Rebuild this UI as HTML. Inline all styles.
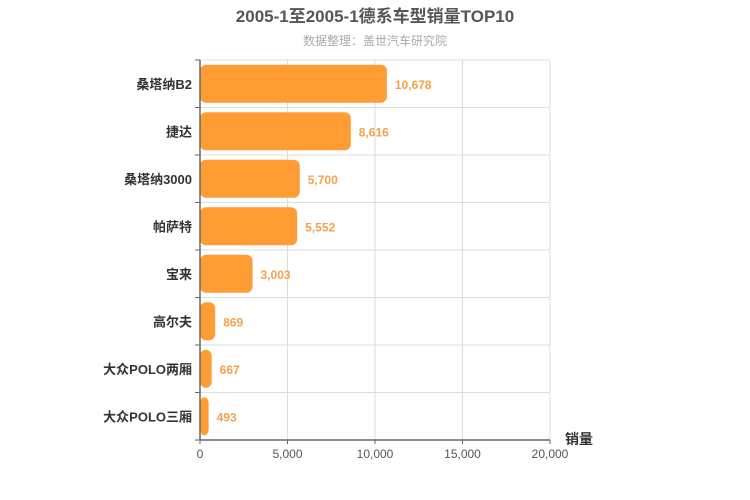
<!DOCTYPE html>
<html><head><meta charset="utf-8"><style>
body{margin:0;background:#fff}
svg{font-family:"Liberation Sans","Noto Sans CJK SC",sans-serif;display:block}
</style></head><body>
<svg id="c" width="750" height="500">
<text x="375" y="22" text-anchor="middle" font-size="17" font-weight="bold" fill="#555">2005-1至2005-1德系车型销量TOP10</text>
<text x="375" y="45" text-anchor="middle" font-size="12" fill="#aaa">数据整理：盖世汽车研究院</text>
<g id="grid"></g><g id="bars"></g><g id="axes"></g>
<text x="565" y="444" font-size="14" font-weight="bold" fill="#333">销量</text>
</svg>
<script>
const categories=["桑塔纳B2","捷达","桑塔纳3000","帕萨特","宝来","高尔夫","大众POLO两厢","大众POLO三厢"];
const values=[10678,8616,5700,5552,3003,869,667,493];
const xTicks=[0,5000,10000,15000,20000];
const NS="http://www.w3.org/2000/svg";
const L=200,R=550,T=60,B=440,MAX=20000;
const x=v=>L+(v/MAX)*(R-L);
const band=(B-T)/categories.length;
const y=i=>T+i*band;
function mk(tag,attrs,parent,txt){const e=document.createElementNS(NS,tag);for(const k in attrs)e.setAttribute(k,attrs[k]);if(txt!==undefined)e.textContent=txt;parent.appendChild(e);return e;}
const grid=document.getElementById('grid'),bars=document.getElementById('bars'),axes=document.getElementById('axes');
xTicks.forEach(t=>{if(t>0){const g=mk('line',{x1:x(t),x2:x(t),y1:T,y2:B,stroke:'#ddd'},grid);

}
const tl=mk('text',{x:x(t),y:B+18,'text-anchor':'middle','font-size':12,fill:'#555'},axes,t.toLocaleString('en-US'));


mk('line',{x1:x(t),x2:x(t),y1:B,y2:B+4,stroke:'#666'},axes);});
for(let i=0;i<=categories.length;i++){if(i<categories.length){const g=mk('line',{x1:L,x2:R,y1:y(i),y2:y(i),stroke:'#ddd'},grid);

}
mk('line',{x1:L-5,x2:L,y1:y(i),y2:y(i),stroke:'#666'},axes);}
categories.forEach((c,i)=>{const cy=y(i)+band/2;const bh=38;
const r=mk('rect',{x:L,y:cy-bh/2,width:Math.max(x(values[i])-L,1),height:bh,rx:6,fill:'#ff9c33'},bars);


const v=mk('text',{x:x(values[i])+8,y:cy+5,'font-size':12,'font-weight':'bold',fill:'#f5a04a'},bars,values[i].toLocaleString('en-US'));


const l=mk('text',{x:L-8,y:cy+5,'text-anchor':'end','font-size':13,'font-weight':'bold',fill:'#333'},axes,c);

});
const ya=mk('line',{x1:L,x2:L,y1:T,y2:B,stroke:'#666','stroke-width':1.5},axes);


const xa=mk('line',{x1:L,x2:R,y1:B,y2:B,stroke:'#666','stroke-width':1.5},axes);


const rg=mk('line',{x1:R,x2:R,y1:T,y2:B,stroke:'#ddd'},grid);


</script>
</body></html>
